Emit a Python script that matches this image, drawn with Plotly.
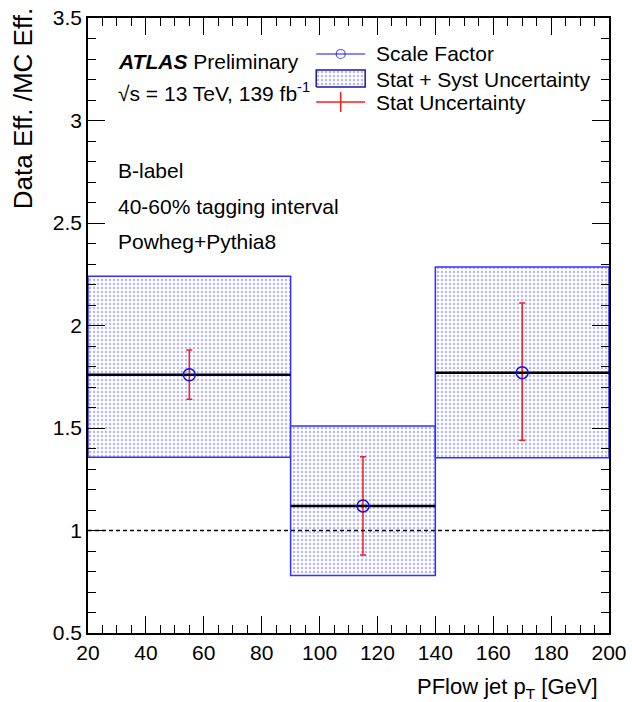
import plotly.graph_objects as go

# ---- data ----
bin_lo = [20, 90, 140]
bin_hi = [90, 140, 200]
centers = [55, 115, 170]
sf = [1.76, 1.12, 1.77]
stat_up = [1.88, 1.36, 2.11]
stat_dn = [1.64, 0.88, 1.44]
tot_up = [2.24, 1.51, 2.285]
tot_dn = [1.357, 0.78, 1.355]

FONT = "Liberation Sans, Arial, Helvetica, sans-serif"
FS = 21

widths = [h - l for l, h in zip(bin_lo, bin_hi)]
half = [w / 2 for w in widths]

PAT = dict(shape=".", fgcolor="#6a6aff", bgcolor="white", size=4, solidity=0.3)

fig = go.Figure()

# Stat + syst boxes
fig.add_trace(go.Bar(
    x=centers, width=widths, base=tot_dn,
    y=[u - d for u, d in zip(tot_up, tot_dn)],
    marker=dict(color="white",
                line=dict(color="#3030ff", width=1.5),
                pattern=PAT),
    showlegend=False, hoverinfo="skip"))

# Scale factor with stat errors and bin-width lines
fig.add_trace(go.Scatter(
    x=centers, y=sf, mode="markers",
    marker=dict(symbol="circle-open", size=12, color="#1010ff",
                line=dict(width=1.5, color="#1010ff")),
    error_x=dict(type="data", array=half, color="black", thickness=2.5, width=0),
    error_y=dict(type="data", symmetric=False,
                 array=[u - v for u, v in zip(stat_up, sf)],
                 arrayminus=[v - d for v, d in zip(sf, stat_dn)],
                 color="#ff1a1a", thickness=1.5, width=3),
    showlegend=False))

# ---- legend symbols on an overlay axis matching the plot area ----
lx0, lx1, lxc = 0.438, 0.532, 0.485
fig.add_trace(go.Scatter(
    x=[lx0, lxc, lx1], y=[0.9415] * 3, mode="lines+markers",
    xaxis="x2", yaxis="y2",
    line=dict(color="#1010ff", width=1.2),
    marker=dict(symbol=["line-ns", "circle-open", "line-ns"], size=[0.1, 9, 0.1],
                color="#1010ff", line=dict(width=1.2, color="#1010ff")),
    showlegend=False, hoverinfo="skip"))
fig.add_trace(go.Scatter(
    x=[lx0, lx1, lx1, lx0, lx0], y=[0.8878, 0.8878, 0.9154, 0.9154, 0.8878],
    xaxis="x2", yaxis="y2", mode="lines", fill="toself",
    fillcolor="white", fillpattern=PAT,
    line=dict(color="#1a1aa0", width=1.5),
    showlegend=False, hoverinfo="skip"))
fig.add_trace(go.Scatter(
    x=[lx0, lx1, None, lxc, lxc], y=[0.8634, 0.8634, None, 0.8797, 0.8472],
    xaxis="x2", yaxis="y2", mode="lines",
    line=dict(color="#ff1a1a", width=1.5),
    showlegend=False, hoverinfo="skip"))

# y = 1 reference line
fig.add_shape(type="line", xref="paper", x0=0, x1=1, yref="y", y0=1, y1=1,
              line=dict(color="black", width=1.5, dash="4px,3px"))

ann = []
def txt(x, y, s, size=FS, **kw):
    d = dict(x=x, y=y, xref="paper", yref="paper", text=s, showarrow=False,
             xanchor="left", yanchor="middle",
             font=dict(family=FONT, size=size, color="black"))
    d.update(kw)
    ann.append(d)

txt(0.0537, 0.930, "<b><i>ATLAS</i></b> Preliminary")
txt(0.0537, 0.8797, "√s = 13 TeV, 139 fb<sup>-1</sup>")
txt(0.0537, 0.7528, "B-label")
txt(0.0537, 0.6943, "40-60% tagging interval")
txt(0.0537, 0.6358, "Powheg+Pythia8")
txt(0.549, 0.9415, "Scale Factor")
txt(0.549, 0.9008, "Stat + Syst Uncertainty")
txt(0.549, 0.8634, "Stat Uncertainty")
txt(0.983, -0.0894, "PFlow jet p<sub>T</sub> [GeV]", size=22, xanchor="right")
txt(-0.1248, 1.02, "Data Eff. /MC Eff.", size=26, textangle=-90,
    xanchor="center", yanchor="top")

axis_common = dict(showline=True, linecolor="black", linewidth=1.5, mirror="ticks",
                   ticks="inside", ticklen=17, tickwidth=1.2, tickcolor="black",
                   showgrid=False, zeroline=False, layer="above traces",
                   automargin=False,
                   tickfont=dict(family=FONT, size=FS, color="black"))

fig.update_layout(
    width=632, height=702,
    margin=dict(l=88, r=23, t=18, b=69, autoexpand=False),
    paper_bgcolor="white", plot_bgcolor="white",
    barmode="overlay",
    annotations=ann,
    xaxis=dict(range=[20, 200], dtick=20, tick0=20,
               minor=dict(ticks="inside", ticklen=8, dtick=5, tickcolor="black", tickwidth=1.2),
               **axis_common),
    yaxis=dict(range=[0.5, 3.5], dtick=0.5, tick0=0.5,
               minor=dict(ticks="inside", ticklen=8, dtick=0.1, tickcolor="black", tickwidth=1.2),
               **axis_common),
    xaxis2=dict(overlaying="x", range=[0, 1], visible=False),
    yaxis2=dict(overlaying="y", range=[0, 1], visible=False),
)

fig.write_html("out.html")
